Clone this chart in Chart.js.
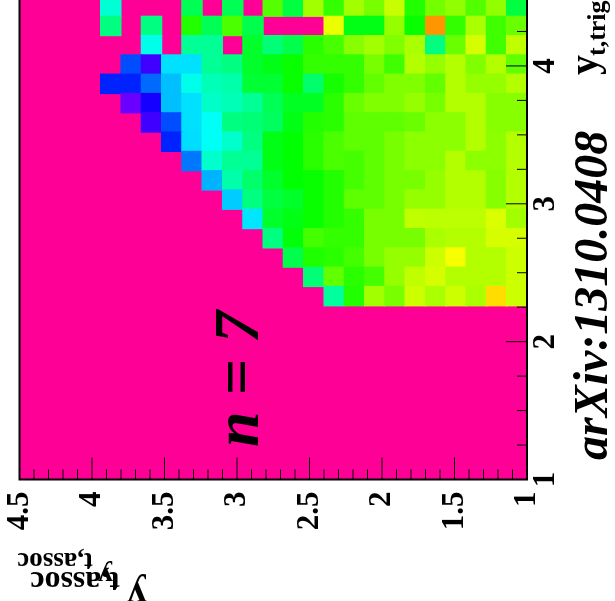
<!DOCTYPE html>
<html>
<head>
<meta charset="utf-8">
<script src="https://cdn.jsdelivr.net/npm/chart.js@4"></script>
<style>
  html, body { margin: 0; padding: 0; width: 615px; height: 601px; overflow: hidden; background: #fff; }
  /* the whole figure is a normal plot turned a quarter turn */
  #plot { position: absolute; left: 0; top: 601px; transform-origin: 0 0; transform: rotate(-90deg); }
</style>
</head>
<body>
<canvas id="plot" width="640" height="640"></canvas>
<script>
const _ = null;
const binWidth = 0.14;
const trigStart = 1;
const assocTop = 4.5;

// cell values as palette hue, one list per trigger bin, columns run from assoc 4.5 down to 1
const row09 = [_,_,_,_,_,_,_,_,_,_,_,_,_,_,_,157,112,82,92,72,80,72,80,52,72];
const row10 = [_,_,_,_,_,_,_,_,_,_,_,_,_,_,148,97,110,104,85,75,70,78,78,78,72];
const row11 = [_,_,_,_,_,_,_,_,_,_,_,_,_,138,113,110,104,92,85,85,72,62,78,78,72];
const row12 = [_,_,_,_,_,_,_,_,_,_,_,_,150,122,104,108,108,92,92,92,80,78,78,70,70];
const row13 = [_,_,_,_,_,_,_,_,_,_,_,186,130,125,118,112,108,92,92,75,76,76,76,69,82];
const row14 = [_,_,_,_,_,_,_,_,_,_,192,150,135,130,118,112,98,98,92,85,85,78,78,88,78];
const row15 = [_,_,_,_,_,_,_,_,_,198,160,145,130,120,118,112,104,98,92,92,85,78,78,88,78];
const row16 = [_,_,_,_,_,_,_,_,212,168,155,155,125,120,110,102,104,98,92,87,87,78,87,87,78];
const row17 = [_,_,_,_,_,_,_,232,188,178,168,150,125,120,110,102,98,98,92,87,87,87,78,87,78];
const row18 = [_,_,_,_,_,_,255,222,187,178,150,148,142,125,112,110,98,98,98,95,87,87,78,88,88];
const row19 = [_,_,_,_,_,265,245,195,187,167,163,155,140,128,128,110,95,90,90,85,92,78,78,88,88];
const row20 = [_,_,_,_,232,232,215,195,175,163,160,132,132,118,145,115,108,97,90,90,97,78,85,85,78];
const row21 = [_,_,_,_,_,222,255,187,187,155,150,130,125,118,108,108,108,92,105,78,85,78,90,78,97];
const row22 = [_,_,_,_,_,_,175,_,155,155,_,130,148,138,110,103,88,82,90,80,150,95,70,105,75];
const row23 = [_,_,_,_,150,_,150,_,112,140,102,138,_,_,_,65,125,125,85,118,35,108,80,105,95];
const row24 = [_,_,_,_,170,_,_,_,140,_,140,_,100,135,82,108,82,92,73,112,93,86,101,86,135];

const rows = [row09, row10, row11, row12, row13, row14, row15, row16,
              row17, row18, row19, row20, row21, row22, row23, row24];
const firstRowBin = 9;

const trigMajorTicks = [1, 2, 3, 4];
const trigMinorTicks = [1.25, 1.5, 1.75, 2.25, 2.5, 2.75, 3.25, 3.5, 3.75, 4.25];
const assocMajorTicks = [1, 1.5, 2, 2.5, 3, 3.5, 4, 4.5];
const assocMinorTicks = [1.1, 1.2, 1.3, 1.4, 1.6, 1.7, 1.8, 1.9, 2.1, 2.2, 2.3, 2.4, 2.6, 2.7, 2.8, 2.9,
                         3.1, 3.2, 3.3, 3.4, 3.6, 3.7, 3.8, 3.9, 4.1, 4.2, 4.3, 4.4];

const SERIF = "'Liberation Serif'";
const texts = [
  { text: "n = 7", x: 154, y: 258, font: "italic bold 64px " + SERIF, rot: 0 },
  { text: "arXiv:1310.0408", x: 141, y: 607, font: "italic bold 48px " + SERIF, rot: 0 },
  { text: "y", x: 526, y: 597, font: "bold 40px " + SERIF, rot: 0 },
  { text: "t,trig", x: 545, y: 605, font: "bold 26px " + SERIF, rot: 0 },
  { text: "y", x: 18, y: 147, font: "bold 40px " + SERIF, rot: -Math.PI / 2 },
  { text: "t,assoc", x: 29, y: 120, font: "bold 32px " + SERIF, rot: -Math.PI / 2 },
  { text: "y", x: 34, y: 113, font: "bold 30px " + SERIF, rot: -Math.PI / 2 },
  { text: "t,assoc", x: 48, y: 93, font: "bold 27px " + SERIF, rot: -Math.PI / 2 },
];

const datasets = rows.map((row, r) => {
  const x = trigStart + (firstRowBin + r + 0.5) * binWidth;
  const data = [];
  const colors = [];
  row.forEach((hue, j) => {
    if (hue === null) return;
    const hi = assocTop - j * binWidth;
    data.push({ x: x, y: [hi - binWidth, hi] });
    colors.push(`hsl(${hue}, 100%, 50%)`);
  });
  // inflate a little so the pad colour does not bleed through the cell seams
  return { data: data, backgroundColor: colors, grouped: false, barPercentage: 1, categoryPercentage: 1, inflateAmount: 0.6 };
});

const framePlugin = {
  id: "frame",
  // pad colour goes under the cells
  beforeDatasetsDraw(chart) {
    const a = chart.chartArea;
    chart.ctx.save();
    chart.ctx.fillStyle = "rgb(255, 0, 150)";
    chart.ctx.fillRect(a.left, a.top, a.width, a.height);
    chart.ctx.restore();
  },
  afterDraw(chart) {
    const ctx = chart.ctx;
    const a = chart.chartArea;
    const xs = chart.scales.x;
    const ys = chart.scales.y;
    ctx.save();
    ctx.strokeStyle = "#000";
    ctx.lineWidth = 1;
    const tickX = (vals, len) => vals.forEach((v) => {
      const p = xs.getPixelForValue(v);
      ctx.beginPath();
      ctx.moveTo(p, a.bottom);
      ctx.lineTo(p, a.bottom - len);
      ctx.stroke();
    });
    const tickY = (vals, len) => vals.forEach((v) => {
      const p = ys.getPixelForValue(v);
      ctx.beginPath();
      ctx.moveTo(a.left, p);
      ctx.lineTo(a.left + len, p);
      ctx.stroke();
    });
    tickX(trigMajorTicks, 21);
    tickX(trigMinorTicks, 10);
    tickY(assocMajorTicks, 22);
    tickY(assocMinorTicks, 10);
    ctx.lineWidth = 2;
    ctx.strokeRect(a.left, a.top, a.width, a.height);

    ctx.fillStyle = "#000";
    ctx.textBaseline = "alphabetic";
    texts.forEach((t) => {
      ctx.save();
      ctx.translate(t.x, t.y);
      ctx.rotate(t.rot);
      ctx.font = t.font;
      ctx.fillText(t.text, 0, 0);
      ctx.restore();
    });
    ctx.restore();
  },
};

new Chart(document.getElementById("plot"), {
  type: "bar",
  data: { datasets: datasets },
  plugins: [framePlugin],
  options: {
    responsive: false,
    animation: false,
    events: [],
    layout: { autoPadding: false, padding: { top: 19.5, right: 36, left: 0, bottom: 0 } },
    plugins: { legend: { display: false }, title: { display: false }, tooltip: { enabled: false } },
    scales: {
      x: {
        type: "linear",
        offset: false,
        min: 1,
        max: 4.5,
        grid: { display: false, offset: false, drawTicks: false },
        border: { display: false },
        afterFit(scale) {
          scale.height = 113;
          scale.paddingLeft = 0;
          scale.paddingRight = 0;
        },
        ticks: {
          stepSize: 1,
          includeBounds: false,
          maxRotation: 0,
          autoSkip: false,
          padding: 0,
          color: "#000",
          font: { family: SERIF, size: 31, weight: "bold" },
        },
      },
      y: {
        min: 1,
        max: 4.5,
        grid: { display: false, drawTicks: false },
        border: { display: false },
        afterFit(scale) {
          scale.width = 121.5;
          scale.paddingTop = 0;
          scale.paddingBottom = 0;
        },
        ticks: {
          stepSize: 0.5,
          includeBounds: false,
          autoSkip: false,
          padding: 12,
          color: "#000",
          font: { family: SERIF, size: 31, weight: "bold" },
          callback: (v) => String(v),
        },
      },
    },
  },
});
</script>
</body>
</html>
